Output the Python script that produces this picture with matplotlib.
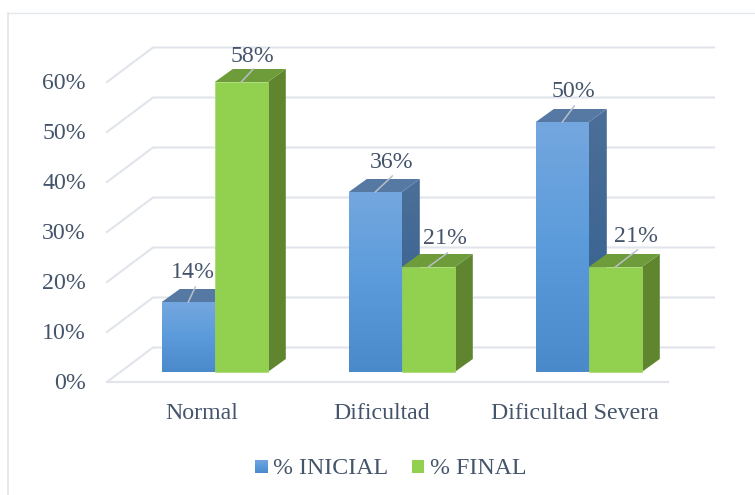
#!/usr/bin/env python3
"""Pseudo-3D clustered columns: % INICIAL vs % FINAL by difficulty level."""

import matplotlib

matplotlib.use("Agg")
import matplotlib.pyplot as plt
import numpy as np
from matplotlib.colors import LinearSegmentedColormap
from matplotlib.lines import Line2D
from matplotlib.patches import Polygon, Rectangle

CATEGORIES = ["Normal", "Dificultad", "Dificultad Severa"]
INICIAL = [14, 36, 50]
FINAL = [58, 21, 21]
GRID_VALUES = [0, 10, 20, 30, 40, 50, 60]
SERIES_NAMES = ["% INICIAL", "% FINAL"]

WIDTH, HEIGHT = 755, 495
LEFT, RIGHT, FLOOR, TOP = 107, 668, 382, 82
TEXT_COLOR = "#44546A"
GRID_COLOR = "#E1E5EB"
LEADER_COLOR = "#B9BFC9"

plt.rcParams["font.family"] = ["Liberation Serif", "DejaVu Serif"]
plt.rcParams["font.size"] = 17.2

fig = plt.figure(figsize=(WIDTH / 100, HEIGHT / 100), dpi=100, facecolor="white")
ax = fig.add_axes(
    [LEFT / WIDTH, 1 - FLOOR / HEIGHT, (RIGHT - LEFT) / WIDTH, (FLOOR - TOP) / HEIGHT]
)
ax.set_axis_off()

# one data unit on each axis, in pixels
PX_PER_CAT = (RIGHT - LEFT) / len(CATEGORIES)
PX_PER_PCT = (FLOOR - TOP) / 60


def dx(pixels):
    return pixels / PX_PER_CAT


def dy(pixels):
    return pixels / PX_PER_PCT


FLOOR_DX, FLOOR_DY = dx(46), dy(34.5)
BAR_FRONT_DX, BAR_FRONT_DY = dx(13.5), dy(10)
BAR_SIDE_DX, BAR_SIDE_DY = dx(18), dy(13)
BAR_W = dx(53)

blue_front = LinearSegmentedColormap.from_list("bf", ["#4A8ACB", "#5B9BDB", "#74A7DF"])
blue_side = LinearSegmentedColormap.from_list("bs", ["#325F8E", "#4B6F98"])
blue_top = "#5679A4"
green_front = "#92D050"
green_side = "#5F862F"
green_top = "#6F9C3A"


def gradient_poly(points, cmap, y_low, y_high, zorder):
    """Polygon filled by a vertical gradient running between y_low and y_high."""
    clip = Polygon(points, closed=True, facecolor="none", edgecolor="none", zorder=zorder, clip_on=False)
    ax.add_patch(clip)
    xs = [p[0] for p in points]
    image = ax.imshow(
        np.linspace(1, 0, 128).reshape(-1, 1),
        extent=(min(xs), max(xs), y_low, y_high),
        cmap=cmap,
        vmin=0,
        vmax=1,
        aspect="auto",
        zorder=zorder,
    )
    image.set_clip_path(clip)
    image.set_clip_box(fig.bbox)


def draw_bar(left, value, series, zorder):
    x0 = left + BAR_FRONT_DX
    x1 = x0 + BAR_W
    y0 = BAR_FRONT_DY
    y1 = value + BAR_FRONT_DY
    sx, sy = BAR_SIDE_DX, BAR_SIDE_DY
    side = [(x1, y0), (x1 + sx, y0 + sy), (x1 + sx, y1 + sy), (x1, y1)]
    top = [(x0, y1), (x0 + sx, y1 + sy), (x1 + sx, y1 + sy), (x1, y1)]
    front = [(x0, y0), (x1, y0), (x1, y1), (x0, y1)]
    if series == 0:
        gradient_poly(side, blue_side, y0, y1 + sy, zorder)
        ax.add_patch(Polygon(top, closed=True, facecolor=blue_top, edgecolor="none", zorder=zorder + 0.1, clip_on=False))
        gradient_poly(front, blue_front, y0, y1, zorder + 0.2)
    else:
        ax.add_patch(Polygon(side, closed=True, facecolor=green_side, edgecolor="none", zorder=zorder, clip_on=False))
        ax.add_patch(Polygon(top, closed=True, facecolor=green_top, edgecolor="none", zorder=zorder + 0.1, clip_on=False))
        ax.add_patch(
            Polygon(
                front,
                closed=True,
                facecolor=green_front,
                edgecolor="#A6DA6C",
                linewidth=0.5,
                zorder=zorder + 0.2,
                clip_on=False,
            )
        )


# floor and back wall
for value in GRID_VALUES:
    back_y = value + FLOOR_DY
    ax.plot(
        (-0.5, -0.5 + FLOOR_DX, 2.5 + FLOOR_DX),
        (value, back_y, back_y),
        color=GRID_COLOR,
        linewidth=1.5,
        solid_joinstyle="miter",
        clip_on=False,
        zorder=1,
    )
    ax.text(
        -0.5 - dx(21),
        value - dy(1.5),
        f"{value}%",
        ha="right",
        va="center",
        color=TEXT_COLOR,
    )
ax.plot((-0.5, 2.5), (0, 0), color=GRID_COLOR, linewidth=1.5, clip_on=False, zorder=1)

# offsets from the bar top front centre, in pixels: leader end, then text centre
LEADER_ENDS = [(7, -15), (12, -13), (17, -16), (19, -14), (12, -16), (22, -17)]
LABEL_NUDGE = [(5, -29), (11, -26), (16, -30), (17, -29), (11, -30.5), (21, -30)]
CATEGORY_NUDGE = [1, -6, 0]

for index, (first, second) in enumerate(zip(INICIAL, FINAL)):
    start = index - 0.5 + dx(41.3)
    for series, value in enumerate((first, second)):
        left = start + series * BAR_W
        draw_bar(left, value, series, 3 + index + series * 0.5)
        center = left + BAR_FRONT_DX + BAR_W / 2
        top = value + BAR_FRONT_DY
        slot = index * 2 + series
        end_x, end_y = LEADER_ENDS[slot]
        nudge_x, nudge_y = LABEL_NUDGE[slot]
        ax.plot(
            (center, center + dx(end_x)),
            (top, top - dy(end_y)),
            color=LEADER_COLOR,
            linewidth=1.1,
            clip_on=False,
            zorder=8,
        )
        ax.text(
            center + dx(nudge_x),
            top - dy(nudge_y),
            f"{value}%",
            ha="center",
            va="center",
            color=TEXT_COLOR,
            zorder=9,
        )
    ax.text(
        index + dx(CATEGORY_NUDGE[index]),
        -dy(31.5),
        CATEGORIES[index],
        ha="center",
        va="center",
        color=TEXT_COLOR,
    )

# legend, kept by hand so the blue swatch can carry its gradient
legend_y = -dy(84.5)
swatch = dy(13)
blue_swatch = -0.5 + dx(148)
green_swatch = -0.5 + dx(305)
gradient_poly(
    [
        (blue_swatch, legend_y - swatch / 2),
        (blue_swatch + dx(13), legend_y - swatch / 2),
        (blue_swatch + dx(13), legend_y + swatch / 2),
        (blue_swatch, legend_y + swatch / 2),
    ],
    blue_front,
    legend_y - swatch / 2,
    legend_y + swatch / 2,
    5,
)
ax.add_patch(
    Rectangle(
        (green_swatch, legend_y - swatch / 2),
        dx(12),
        swatch,
        facecolor=green_front,
        edgecolor="none",
        clip_on=False,
    )
)
ax.text(-0.5 + dx(166), legend_y - dy(2), SERIES_NAMES[0], ha="left", va="center", color=TEXT_COLOR)
ax.text(-0.5 + dx(323), legend_y - dy(2), SERIES_NAMES[1], ha="left", va="center", color=TEXT_COLOR)

ax.set_xlim(-0.5, 2.5)
ax.set_ylim(0, 60)

# chart area border: only the left and top edges are in frame
frame_x = 8 / WIDTH
frame_y = 1 - 13 / HEIGHT
fig.add_artist(Line2D((frame_x, frame_x), (0, frame_y), color="#E4E8ED", linewidth=1.3))
fig.add_artist(Line2D((frame_x, 1), (frame_y, frame_y), color="#E4E8ED", linewidth=1.0))

fig.savefig("out.png", dpi=100, facecolor="white")
